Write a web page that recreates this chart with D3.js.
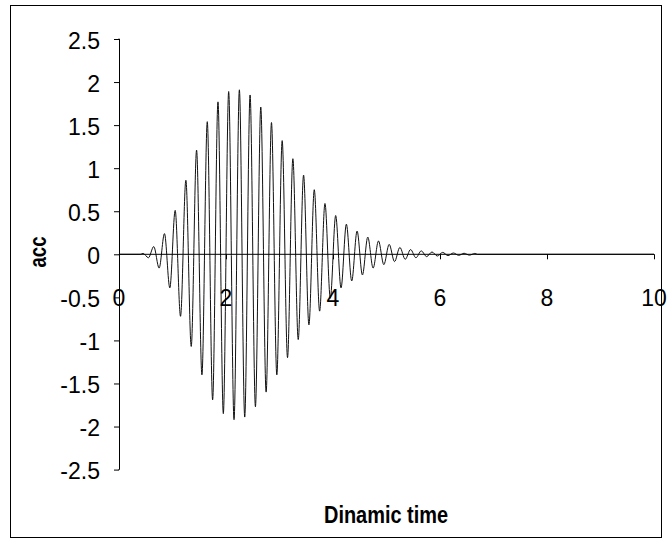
<!DOCTYPE html>
<html>
<head>
<meta charset="utf-8">
<script src="https://cdn.jsdelivr.net/npm/d3@7/dist/d3.min.js"></script>
<style>
  html, body { margin: 0; padding: 0; background: #fff; }
  svg { display: block; }
  text { font-family: "Liberation Sans", Arial, sans-serif; fill: #000; }
</style>
</head>
<body>
<script>
// ---- data ----
const timeValues = [
  0, 0.40, 0.45, 0.55, 0.65, 0.75, 0.85, 0.95, 1.05, 1.15, 1.25, 1.35, 1.45,
  1.55, 1.65, 1.75, 1.85, 1.95, 2.05, 2.15, 2.25, 2.35, 2.45, 2.55, 2.65,
  2.75, 2.85, 2.95, 3.05, 3.15, 3.25, 3.35, 3.45, 3.55, 3.65, 3.75, 3.85,
  3.95, 4.05, 4.15, 4.25, 4.35, 4.45, 4.55, 4.65, 4.75, 4.85, 4.95, 5.05,
  5.15, 5.25, 5.35, 5.45, 5.55, 5.65, 5.75, 5.85, 5.95, 6.05, 6.15, 6.25,
  6.35, 6.45, 6.55, 6.65, 6.70, 10
];
const accValues = [
  0, 0, 0.01, -0.04, 0.09, -0.16, 0.24, -0.39, 0.51, -0.72, 0.86, -1.07, 1.21,
  -1.40, 1.54, -1.69, 1.77, -1.85, 1.89, -1.92, 1.91, -1.89, 1.85, -1.77, 1.71,
  -1.60, 1.53, -1.40, 1.32, -1.20, 1.11, -0.99, 0.92, -0.82, 0.75, -0.66, 0.59,
  -0.51, 0.45, -0.39, 0.35, -0.31, 0.27, -0.24, 0.20, -0.16, 0.155, -0.12, 0.115,
  -0.085, 0.08, -0.058, 0.055, -0.04, 0.04, -0.027, 0.027, -0.02, 0.022, -0.015, 0.015,
  -0.012, 0.012, -0.01, 0.01, 0, 0
];
const xTicks = [0, 2, 4, 6, 8, 10];
const yTicks = [2.5, 2, 1.5, 1, 0.5, 0, -0.5, -1, -1.5, -2, -2.5];
const xTitle = "Dinamic time";
const yTitle = "acc";

// ---- drawing ----
const W = 667, H = 541;
const svg = d3.select("body").append("svg").attr("width", W).attr("height", H);
svg.append("rect").attr("width", W).attr("height", H).attr("fill", "#fff");

// outer border
svg.append("rect")
  .attr("x", 10.5).attr("y", 5.5).attr("width", 651).attr("height", 532)
  .attr("fill", "none").attr("stroke", "#000").attr("stroke-width", 1);

const x = d3.scaleLinear().domain([0, 10]).range([119, 654]);
const y = d3.scaleLinear().domain([-2.5, 2.5]).range([469.6, 39]);

const fmt = d => String(Math.round(d * 10) / 10);

// signal
const pts = timeValues.map((t, i) => [t, accValues[i]]);
const line = d3.line().x(d => x(d[0])).y(d => y(d[1])).curve(d3.curveMonotoneX);
svg.append("path").datum(pts)
  .attr("d", line).attr("fill", "none").attr("stroke", "#111").attr("stroke-width", 1);

// y axis
const yAxis = svg.append("g").attr("transform", `translate(${x(0)},0)`);
yAxis.call(d3.axisLeft(y).tickValues(yTicks).tickSize(5).tickPadding(0).tickFormat(""));
yAxis.select(".domain").attr("d", `M-0.5,${y(2.5)}H0.5V${y(-2.5)}H-0.5`);
yAxis.selectAll("line, path").attr("stroke", "#000");
svg.append("g").selectAll("text").data(yTicks).join("text")
  .attr("x", 100).attr("y", d => y(d) + 9.5)
  .attr("text-anchor", "end").attr("font-size", 23)
  .text(fmt);

// x axis at zero
const xAxis = svg.append("g").attr("transform", `translate(0,${y(0)})`);
xAxis.call(d3.axisBottom(x).tickValues(xTicks).tickSize(5).tickPadding(0).tickFormat(""));
xAxis.select(".domain").attr("d", `M${x(0)},0.5V0H${x(10)}V0.5`);
xAxis.selectAll("line, path").attr("stroke", "#000");
svg.append("g").selectAll("text").data(xTicks).join("text")
  .attr("x", d => x(d)).attr("y", 306)
  .attr("text-anchor", "middle").attr("font-size", 23)
  .text(fmt);

// titles
svg.append("text")
  .attr("x", 386).attr("y", 523)
  .attr("text-anchor", "middle").attr("font-size", 24).attr("font-weight", "bold")
  .attr("textLength", 124).attr("lengthAdjust", "spacingAndGlyphs")
  .text(xTitle);

svg.append("text")
  .attr("transform", "translate(46,252) rotate(-90)")
  .attr("text-anchor", "middle").attr("font-size", 23).attr("font-weight", "bold")
  .attr("textLength", 31).attr("lengthAdjust", "spacingAndGlyphs")
  .text(yTitle);
</script>
</body>
</html>
